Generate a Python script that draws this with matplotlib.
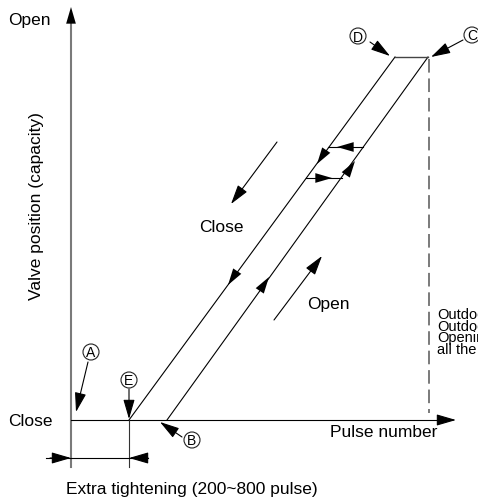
import matplotlib.pyplot as plt
from matplotlib.patches import Circle

plt.rcParams['font.family'] = ['Liberation Sans', 'DejaVu Sans']

# diagram geometry (pixel units of the 478x502 picture, y grows downward)
axis_x, axis_y = 71, 421
close_line_x = [129, 395]
close_line_y = [421, 58]
open_line_x = [167, 428]
open_line_y = [421, 58]
top_x = [395, 428]
top_y = [58, 58]
dash_x = [429, 429]
dash_y = [60, 414]

# arrowheads sitting on the lines: (tail, tip)
line_heads = [((321, 159), (317, 165)), ((232, 280), (228, 286)),
              ((351, 168), (355, 162)), ((265, 284), (269, 278))]
# cross arrows between the two lines
cross_arrows = [((363, 148), (328, 148), 337), ((306, 179), (342, 179), 332)]
# free arrows: (tail, tip)
free_arrows = [((277, 143), (231, 205)), ((274, 321), (322, 257))]

# circled marks: letter, centre, arrow tail, arrow tip
marks = [('A', (91, 353), (88, 363), (76, 413)),
         ('E', (129, 381), (129, 390), (129, 420)),
         ('B', (192, 441), (182, 438), (160, 423)),
         ('D', (358, 37), (370, 43), (390, 57)),
         ('C', (472, 36), (463, 41), (431, 58))]

note_lines = ['Outdoor', 'Outdoor', 'Opening', 'all the']
note_base = [319.5, 331, 342.5, 354]

fig = plt.figure(figsize=(4.78, 5.02), dpi=100)
ax = fig.add_axes([0, 0, 1, 1])
ax.set_xlim(0, 478)
ax.set_ylim(502, 0)
ax.axis('off')

head = dict(arrowstyle='-|>,head_length=1.2,head_width=0.35', mutation_scale=10,
            color='black', lw=0.8, shrinkA=0, shrinkB=0)


def arrow(tail, tip, **kw):
    props = dict(head)
    props.update(kw)
    ax.annotate('', xy=tip, xytext=tail, arrowprops=props)


# axes of the diagram
ax.plot([axis_x, axis_x], [468, 20], color='#7a7a7a', lw=1.5)
arrow((axis_x, 30), (axis_x, 8), lw=0)
ax.plot([axis_x, 445], [axis_y, axis_y], color='black', lw=0.8)
arrow((440, axis_y), (456, axis_y))

# extra tightening marker
ax.plot([129, 129], [axis_y, 468], color='#333333', lw=0.8)
ax.plot([46, 148], [459, 459], color='black', lw=0.8)
arrow((50, 459), (71, 459))
arrow((148, 459), (129, 459))

# characteristic lines
ax.plot(close_line_x, close_line_y, color='black', lw=0.8)
ax.plot(open_line_x, open_line_y, color='black', lw=0.8)
ax.plot(top_x, top_y, color='#444444', lw=1.0)
ax.plot(dash_x, dash_y, color='#7a7a7a', lw=1.4, ls=(0, (7, 3)))

for tail, tip in line_heads:
    arrow(tail, tip, lw=0)
for (x0, y0), (x1, y1), xt in cross_arrows:
    ax.plot([x0, x1], [y0, y1], color='black', lw=0.8)
    d = 1 if x1 > x0 else -1
    arrow((xt - d * 6, y0), (xt, y0), lw=0)
for tail, tip in free_arrows:
    arrow(tail, tip)

for letter, (cx, cy), tail, tip in marks:
    ax.add_patch(Circle((cx, cy), 8, fill=False, ec='#222222', lw=0.8))
    ax.text(cx, cy + 0.5, letter, fontsize=10, ha='center', va='center')
    arrow(tail, tip)

# labels
fs = 12.5
ax.text(8, 25, 'Open', fontsize=fs, va='baseline')
ax.text(8, 426, 'Close', fontsize=fs, va='baseline')
ax.text(330, 437, 'Pulse number', fontsize=fs, va='baseline')
ax.text(221, 228, 'Close', fontsize=fs, ha='center', va='center')
ax.text(328, 305, 'Open', fontsize=fs, ha='center', va='center')
ax.text(37, 206, 'Valve position (capacity)', fontsize=fs, rotation=90,
        ha='center', va='center')
ax.text(192, 490, 'Extra tightening (200~800 pulse)', fontsize=fs,
        ha='center', va='center')
for s, yb in zip(note_lines, note_base):
    ax.text(437, yb, s, fontsize=10.5, va='baseline')

fig.savefig('out.png', dpi=100)
